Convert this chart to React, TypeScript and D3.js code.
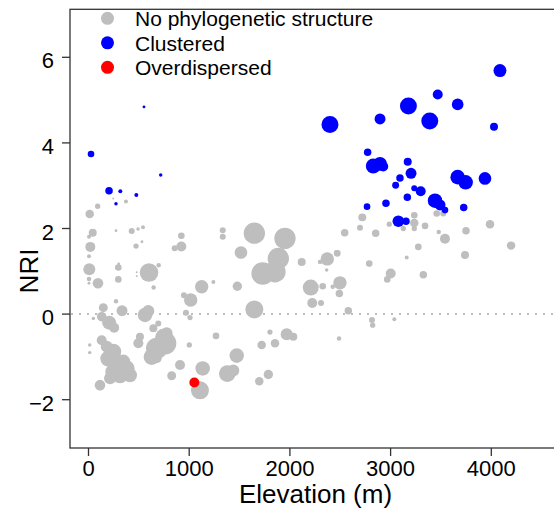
import React from "react";
import * as d3 from "d3";

// [elevation (m), NRI, size]
const greyPoints: [number, number, number][] = [
  [246, 2.7, 1], [372, 2.63, 4], [91, 2.52, 7], [12, 2.34, 18], [42, 1.9, 16], [5, 1.81, 4],
  [273, 1.95, 2], [429, 1.94, 9], [492, 1.99, 3], [541, 2.03, 4], [531, 1.69, 2], [472, 1.59, 7],
  [18, 1.57, 25], [5, 1.35, 4], [8, 1.05, 36], [296, 1.09, 11], [300, 1.17, 2], [5, 0.82, 5],
  [5, 0.72, 2], [94, 0.72, 28], [296, 0.81, 11], [479, 0.98, 1], [479, 0.89, 1], [601, 0.97, 86],
  [697, 1.14, 5], [647, 0.62, 5], [922, 1.83, 11], [922, 1.58, 25], [856, 1.54, 9], [1124, 0.64, 45],
  [1015, 0.33, 45], [948, 0.44, 9], [273, 0.3, 5], [147, 0.15, 20], [333, 0.08, 30], [131, -0.06, 23],
  [48, -0.1, 3], [205, -0.2, 49], [255, -0.32, 25], [561, -0.02, 52], [594, 0.07, 36], [693, -0.22, 9],
  [644, -0.33, 16], [968, 0.03, 9], [1008, -0.08, 7], [1001, -0.72, 7], [909, -1.19, 25], [826, -1.44, 20],
  [12, -0.72, 3], [12, -0.9, 3], [114, -1.66, 28], [511, -0.53, 16], [495, -0.68, 25], [743, -0.53, 64],
  [760, -0.68, 128], [677, -0.8, 114], [627, -1.0, 64], [776, -0.45, 36], [677, -1.03, 25], [131, -0.61, 25],
  [181, -0.76, 36], [246, -0.88, 64], [197, -1.04, 64], [280, -1.15, 81], [346, -1.11, 49], [379, -1.27, 64],
  [246, -1.35, 64], [313, -1.43, 64], [412, -1.43, 49], [214, -1.5, 36],
  [1333, 1.96, 9], [1333, 1.81, 9], [1647, 1.89, 114], [1951, 1.77, 114], [1514, 1.44, 40], [1885, 1.3, 114],
  [1852, 0.99, 114], [1730, 0.95, 128], [2117, 1.22, 16], [2299, 1.22, 5], [2371, 1.29, 45], [2465, 1.43, 9],
  [2365, 1.03, 3], [1240, 0.75, 4], [1478, 0.65, 22], [1647, 0.11, 81], [2207, 0.62, 64], [2326, 0.65, 11],
  [2497, 0.73, 45], [2425, 0.64, 5], [2491, 0.48, 14], [2222, 0.26, 25], [2309, 0.26, 9], [2580, 0.08, 14],
  [1266, -0.51, 11], [1802, -0.42, 7], [1968, -0.47, 36], [2034, -0.53, 16], [1852, -0.68, 18], [1720, -0.72, 18],
  [2488, -0.57, 5], [2815, -0.14, 9], [2822, -0.26, 7], [3037, -0.12, 4], [1472, -0.97, 53], [1378, -1.39, 69],
  [1438, -1.32, 36], [1134, -1.27, 53], [1786, -1.41, 22], [1696, -1.57, 18], [1107, -1.78, 81],
  [2719, 2.26, 16], [2696, 2.02, 9], [2544, 1.9, 14], [2852, 1.89, 14], [2987, 2.1, 7], [3126, 2.0, 7],
  [3235, 2.31, 11], [3235, 2.13, 18], [3235, 2.0, 7], [3342, 2.06, 11], [3458, 2.35, 11], [3523, 2.35, 9],
  [3478, 1.92, 5], [3540, 1.76, 25], [3749, 1.95, 14], [3987, 2.1, 18], [4196, 1.6, 18], [3739, 1.38, 16],
  [3275, 1.57, 11], [3160, 1.32, 4], [3325, 0.92, 14], [3001, 0.95, 25], [2967, 0.81, 11], [2788, 1.18, 11],
  [2471, 1.42, 11],
];

const bluePoints: [number, number, number][] = [
  [25, 3.74, 11], [551, 4.84, 2], [717, 3.25, 3], [204, 2.88, 14], [316, 2.87, 4], [475, 2.78, 4],
  [273, 2.58, 3], [4086, 5.69, 42], [2398, 4.43, 72], [2895, 4.56, 30], [3177, 4.86, 72], [3468, 5.13, 25],
  [3666, 4.9, 34], [3389, 4.51, 72], [4027, 4.38, 16], [2772, 3.78, 14], [2828, 3.46, 56], [2895, 3.51, 49],
  [2927, 3.45, 25], [3170, 3.56, 16], [3203, 3.29, 30], [3093, 3.18, 14], [3050, 3.01, 12], [3235, 2.94, 9],
  [3299, 2.87, 25], [3166, 2.73, 14], [3666, 3.2, 53], [3745, 3.08, 53], [3937, 3.17, 40], [3441, 2.65, 53],
  [3491, 2.55, 30], [3540, 2.43, 11], [3726, 2.49, 14], [2766, 2.51, 11], [2954, 2.59, 14], [3077, 2.17, 34],
  [3153, 2.17, 14],
];

const redPoints: [number, number, number][] = [[1051, -1.6, 25]];

const legendLabels = ["No phylogenetic structure", "Clustered", "Overdispersed"];
const legendColors = ["#BEBEBE", "#0000FF", "#FF0000"];
const xTicks = [0, 1000, 2000, 3000, 4000];
const yTicks = [-2, 0, 2, 4, 6];

export default function App() {
  const W = 554, H = 516;
  const left = 70, top = 9.3, bottom = 448, right = 562;
  const x = d3.scaleLinear().domain([0, 4000]).range([88.5, 491.3]);
  const y = d3.scaleLinear().domain([-2, 6]).range([399.7, 57.3]);
  const r = d3.scaleSqrt().domain([0, 128]).range([0, 11.3]);
  const font = "'Liberation Sans', Arial, Helvetica, sans-serif";
  const axisColor = "#333";

  const drawGroup = (pts: [number, number, number][], color: string) =>
    pts.map((p, i) => (
      <circle key={color + i} cx={x(p[0])} cy={y(p[1])} r={r(p[2])} fill={color} />
    ));

  return (
    <svg width={W} height={H} style={{ position: "absolute", left: 0, top: 0, background: "#fff" }} fontFamily={font}>
      <rect x={0} y={0} width={W} height={H} fill="#fff" />
      <line x1={left + 1} x2={right} y1={y(0)} y2={y(0)} stroke="#BEBEBE" strokeWidth={2} strokeDasharray="2 6" />
      {drawGroup(greyPoints, legendColors[0])}
      {drawGroup(bluePoints, legendColors[1])}
      {drawGroup(redPoints, legendColors[2])}
      <rect x={left} y={top} width={right - left} height={bottom - top} fill="none" stroke={axisColor} strokeWidth={1.3} />
      {xTicks.map((t) => (
        <g key={"x" + t}>
          <line x1={x(t)} x2={x(t)} y1={bottom} y2={bottom + 8} stroke={axisColor} strokeWidth={1.3} />
          <text x={x(t)} y={476} textAnchor="middle" fontSize={22} fill="#000">{t}</text>
        </g>
      ))}
      {yTicks.map((t) => (
        <g key={"y" + t}>
          <line x1={left - 8} x2={left} y1={y(t)} y2={y(t)} stroke={axisColor} strokeWidth={1.3} />
          <text x={54} y={y(t) + 11} textAnchor="end" fontSize={22} fill="#000">{t < 0 ? "\u2212" + Math.abs(t) : t}</text>
        </g>
      ))}
      <text x={315.5} y={503} textAnchor="middle" fontSize={26} fill="#000">Elevation (m)</text>
      <text transform="translate(38,271) rotate(-90)" textAnchor="middle" fontSize={26} fill="#000">NRI</text>
      {legendLabels.map((l, i) => (
        <g key={l}>
          <circle cx={107.5} cy={18.3 + i * 24.5} r={6.5} fill={legendColors[i]} />
          <text x={135} y={18.3 + i * 24.5 + 8} fontSize={21} fill="#000">{l}</text>
        </g>
      ))}
    </svg>
  );
}
